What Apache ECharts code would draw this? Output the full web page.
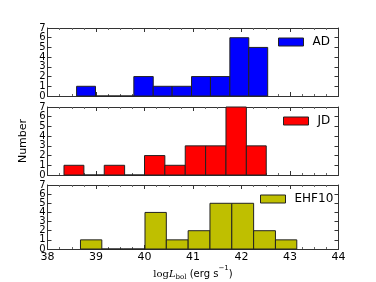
<!DOCTYPE html>
<html>
<head>
<meta charset="utf-8">
<script src="https://cdn.jsdelivr.net/npm/echarts@6/dist/echarts.min.js"></script>
<style>
html,body{margin:0;padding:0;background:#fff;}
#chart{width:376px;height:282px;}
</style>
</head>
<body>
<div id="chart"></div>
<script>
// Histogram bin edges and counts
var adEdges = [38.60, 38.99, 39.39, 39.78, 40.18, 40.57, 40.97, 41.36, 41.76, 42.15, 42.54];
var adCounts = [1, 0, 0, 2, 1, 1, 2, 2, 6, 5];
var jdEdges = [38.34, 38.75, 39.17, 39.59, 40.00, 40.42, 40.84, 41.26, 41.68, 42.10, 42.51];
var jdCounts = [1, 0, 1, 0, 2, 1, 3, 3, 7, 3];
var ehfEdges = [38.68, 39.12, 39.56, 40.01, 40.45, 40.90, 41.35, 41.80, 42.25, 42.70, 43.14];
var ehfCounts = [1, 0, 0, 4, 1, 2, 5, 5, 2, 1];
var seriesNames = ['AD', 'JD', 'EHF10'];
var xTicks = [38, 39, 40, 41, 42, 43, 44];
var yTicks = [0, 1, 2, 3, 4, 5, 6, 7];

var colors = ['#0000ff', '#ff0000', '#bfbf00'];
var edgesList = [adEdges, jdEdges, ehfEdges];
var countsList = [adCounts, jdCounts, ehfCounts];
var gridTops = [28, 107, 185];
var gridH = 68;
var legendLefts = [278, 283, 260];
var font = 'DejaVu Sans';
var frameColor = '#333';

function binData(edges, counts) {
  var d = [];
  for (var i = 0; i < counts.length; i++) d.push([edges[i], edges[i + 1], counts[i]]);
  return d;
}

var grids = [], xAxes = [], yAxes = [], series = [], legends = [];
for (var g = 0; g < 3; g++) {
  grids.push({left: 47.5, right: 37.5, top: gridTops[g], height: gridH, show: false});
  var isBottom = g === 2;
  xAxes.push({
    type: 'value', gridIndex: g, position: 'bottom', min: xTicks[0], max: xTicks[xTicks.length - 1], interval: 1,
    axisLine: {show: true, onZero: false, lineStyle: {color: frameColor, width: 1}},
    axisTick: {show: true, inside: true, length: 4, lineStyle: {color: frameColor}},
    minorTick: {show: true, splitNumber: 4, length: 2, lineStyle: {color: '#666'}},
    splitLine: {show: false},
    axisLabel: {show: isBottom, color: '#000', fontFamily: font, fontSize: 11, margin: 3, showMinLabel: true, showMaxLabel: true, hideOverlap: false},
    name: isBottom ? '{a|log}{b|L}{c|bol}{d| (erg s}{e|\u22121}{d|)}' : '',
    nameLocation: 'middle', nameGap: 18,
    nameTextStyle: {
      rich: {
        a: {fontFamily: 'DejaVu Serif', fontSize: 10, color: '#000', lineHeight: 14, verticalAlign: 'middle'},
        b: {fontFamily: 'DejaVu Serif', fontStyle: 'italic', fontSize: 10, color: '#000', lineHeight: 14, verticalAlign: 'middle'},
        c: {fontFamily: 'DejaVu Serif', fontSize: 7, color: '#000', lineHeight: 14, verticalAlign: 'bottom', padding: [0, 0, 0, 0]},
        d: {fontFamily: font, fontSize: 10, color: '#000', lineHeight: 14, verticalAlign: 'middle'},
        e: {fontFamily: font, fontSize: 7, color: '#000', lineHeight: 14, verticalAlign: 'top', padding: [-2, 0, 0, 0]}
      }
    }
  });
  xAxes.push({
    type: 'value', gridIndex: g, position: 'top', min: xTicks[0], max: xTicks[xTicks.length - 1], interval: 1,
    axisLine: {show: true, onZero: false, lineStyle: {color: frameColor, width: 1}},
    axisTick: {show: true, inside: true, length: 4, lineStyle: {color: frameColor}},
    minorTick: {show: true, splitNumber: 4, length: 2, lineStyle: {color: '#666'}},
    splitLine: {show: false}, axisLabel: {show: false}
  });
  // left axis: frame, ticks and even labels
  yAxes.push({
    type: 'value', gridIndex: g, position: 'left', min: yTicks[0], max: yTicks[yTicks.length - 1], interval: 1,
    axisLine: {show: true, onZero: false, lineStyle: {color: frameColor, width: 1}},
    axisTick: {show: true, inside: true, length: 4, lineStyle: {color: frameColor}},
    splitLine: {show: false},
    axisLabel: {show: true, color: '#000', fontFamily: font, fontSize: 10, margin: 2, showMinLabel: true, showMaxLabel: true, hideOverlap: false,
      formatter: function (v) { return v % 2 === 0 ? String(v) : ''; }},
    name: g === 1 ? 'Number' : '', nameLocation: 'middle', nameGap: -8, nameRotate: 90,
    nameTextStyle: {color: '#000', fontFamily: font, fontSize: 11}
  });
  yAxes.push({
    type: 'value', gridIndex: g, position: 'right', min: yTicks[0], max: yTicks[yTicks.length - 1], interval: 1,
    axisLine: {show: true, onZero: false, lineStyle: {color: frameColor, width: 1}},
    axisTick: {show: true, inside: true, length: 4, lineStyle: {color: frameColor}},
    splitLine: {show: false}, axisLabel: {show: false}
  });
  // second left axis: odd labels only
  yAxes.push({
    type: 'value', gridIndex: g, position: 'left', offset: 0, min: yTicks[0], max: yTicks[yTicks.length - 1], interval: 1,
    axisLine: {show: false}, axisTick: {show: false}, splitLine: {show: false},
    axisLabel: {show: true, color: '#000', fontFamily: font, fontSize: 10, margin: 2, showMinLabel: true, showMaxLabel: true, hideOverlap: false,
      formatter: function (v) { return v % 2 === 1 ? String(v) : ''; }}
  });
  (function (gi) {
    series.push({
      type: 'custom', name: seriesNames[gi], xAxisIndex: gi * 2, yAxisIndex: gi * 3,
      itemStyle: {color: colors[gi]},
      data: binData(edgesList[gi], countsList[gi]),
      encode: {x: [0, 1], y: 2},
      renderItem: function (params, api) {
        var p0 = api.coord([api.value(0), api.value(2)]);
        var p1 = api.coord([api.value(1), 0]);
        return {
          type: 'rect',
          shape: {x: p0[0], y: p0[1], width: p1[0] - p0[0], height: p1[1] - p0[1]},
          style: {fill: colors[gi], stroke: '#222', lineWidth: 1}
        };
      }
    });
  })(g);
  legends.push({
    data: [seriesNames[g]], left: legendLefts[g], top: gridTops[g] + 8, padding: 0,
    icon: 'rect', itemWidth: 25, itemHeight: 8,
    itemStyle: {borderColor: '#222', borderWidth: 1},
    textStyle: {color: '#000', fontFamily: font, fontSize: 12, padding: [0, 0, 0, 4]},
    selectedMode: false
  });
}

var chart = echarts.init(document.getElementById('chart'), null, {renderer: 'canvas'});
chart.setOption({
  animation: false,
  backgroundColor: '#fff',
  grid: grids, xAxis: xAxes, yAxis: yAxes, series: series, legend: legends
});
</script>
</body>
</html>
